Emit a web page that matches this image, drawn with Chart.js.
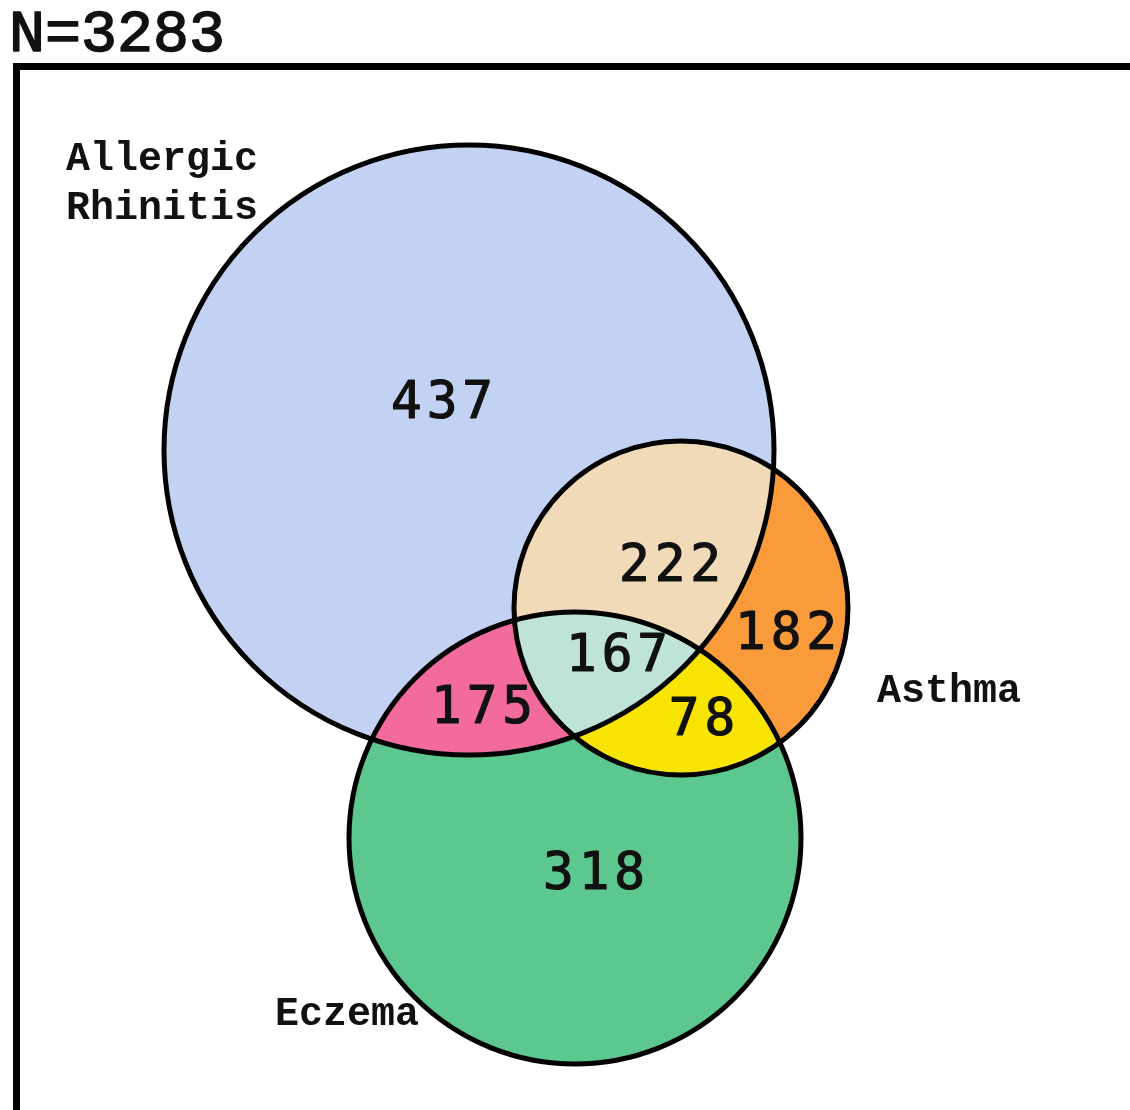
<!DOCTYPE html>
<html lang="en">
<head>
  <meta charset="UTF-8">
  <title>Allergic disease overlap, N=3283</title>
  <script src="https://cdn.jsdelivr.net/npm/chart.js@4.4.1/dist/chart.umd.min.js"></script>
  <style>
    html, body { margin: 0; padding: 0; background: #fff; }
    .wrap { width: 1130px; height: 1110px; position: relative; }
  </style>
</head>
<body>
  <div class="wrap"><canvas id="venn"></canvas></div>

  <script>
    // ---- data ----
    const totalN = 3283;
    const setNames = ['Allergic Rhinitis', 'Asthma', 'Eczema'];
    // membership of each region in [AR, Asthma, Eczema]
    const regionSets = [[1,0,0], [1,1,0], [0,1,0], [1,0,1], [1,1,1], [0,1,1], [0,0,1]];
    const regionCounts = [437, 222, 182, 175, 167, 78, 318];

    // ---- layout (axis units, y grows downwards) ----
    const circleX = [469, 681, 575];
    const circleY = [450, 608, 838];
    const circleR = [305, 167, 226];
    const countX = [442, 670, 786, 482, 617, 702, 594];
    const countY = [405, 568, 636, 710, 658, 722, 876];
    const nameX = [66, 877, 275];
    const nameY = [160, 692, 1015];
    const regionColors = ['#c3d1f3', '#f1dab8', '#f99b3b', '#f26b9c', '#bfe3d9', '#f7e400', '#5cc78f'];

    // draws filled regions, outlines, frame and the text
    const vennPlugin = {
      id: 'venn',
      beforeDatasetsDraw(chart) {
        const ctx = chart.ctx;
        const xs = chart.scales.x, ys = chart.scales.y;
        const W = chart.width, H = chart.height;
        const cx = i => xs.getPixelForValue(circleX[i]);
        const cy = i => ys.getPixelForValue(circleY[i]);
        const cr = i => Math.abs(xs.getPixelForValue(circleX[i] + circleR[i]) - cx(i));

        regionSets.forEach((m, k) => {
          ctx.save();
          m.forEach((inside, i) => {
            ctx.beginPath();
            if (!inside) ctx.rect(0, 0, W, H);
            ctx.arc(cx(i), cy(i), cr(i), 0, Math.PI * 2);
            ctx.clip(inside ? 'nonzero' : 'evenodd');
          });
          ctx.fillStyle = regionColors[k];
          ctx.fillRect(0, 0, W, H);
          ctx.restore();
        });

        ctx.save();
        ctx.strokeStyle = '#000';
        ctx.lineWidth = 5;
        for (let i = 0; i < circleX.length; i++) {
          ctx.beginPath();
          ctx.arc(cx(i), cy(i), cr(i), 0, Math.PI * 2);
          ctx.stroke();
        }
        // frame
        ctx.lineWidth = 7;
        ctx.beginPath();
        ctx.moveTo(xs.getPixelForValue(16.5), ys.getPixelForValue(1110));
        ctx.lineTo(xs.getPixelForValue(16.5), ys.getPixelForValue(66.5));
        ctx.lineTo(xs.getPixelForValue(1130), ys.getPixelForValue(66.5));
        ctx.stroke();
        ctx.restore();
      },
      afterDatasetsDraw(chart) {
        const ctx = chart.ctx;
        ctx.save();
        ctx.fillStyle = '#111';
        ctx.strokeStyle = '#111';
        ctx.lineJoin = 'round';
        ctx.textBaseline = 'middle';

        // region counts (thin stroke makes them a bit heavier than regular)
        ctx.textAlign = 'center';
        ctx.font = '51px "DejaVu Sans Mono"';
        ctx.letterSpacing = '5px';
        ctx.lineWidth = 1.2;
        chart.getDatasetMeta(0).data.forEach((pt, i) => {
          ctx.fillText(String(regionCounts[i]), pt.x + 2.5, pt.y);
          ctx.strokeText(String(regionCounts[i]), pt.x + 2.5, pt.y);
        });
        ctx.letterSpacing = '0px';

        // set names
        ctx.textAlign = 'left';
        ctx.font = 'bold 40px "Liberation Mono"';
        chart.getDatasetMeta(1).data.forEach((pt, i) => {
          const words = i === 0 ? setNames[i].split(' ') : [setNames[i]];
          words.forEach((w, j) => ctx.fillText(w, pt.x, pt.y + j * 49));
        });

        // N
        ctx.font = '60px "Liberation Mono"';
        ctx.lineWidth = 1.6;
        const tx = chart.scales.x.getPixelForValue(9), ty = chart.scales.y.getPixelForValue(35);
        ctx.fillText('N=' + totalN, tx, ty);
        ctx.strokeText('N=' + totalN, tx, ty);
        ctx.restore();
      }
    };

    new Chart(document.getElementById('venn'), {
      type: 'scatter',
      data: {
        datasets: [
          { label: 'counts', data: countX.map((x, i) => ({ x: x, y: countY[i] })), pointRadius: 0 },
          { label: 'names', data: nameX.map((x, i) => ({ x: x, y: nameY[i] })), pointRadius: 0 }
        ]
      },
      options: {
        responsive: true,
        maintainAspectRatio: false,
        animation: false,
        layout: { padding: 0 },
        scales: {
          x: { type: 'linear', min: 0, max: 1130, display: false },
          y: { type: 'linear', min: 0, max: 1110, reverse: true, display: false }
        },
        plugins: { legend: { display: false }, tooltip: { enabled: false } }
      },
      plugins: [vennPlugin]
    });
  </script>
</body>
</html>
